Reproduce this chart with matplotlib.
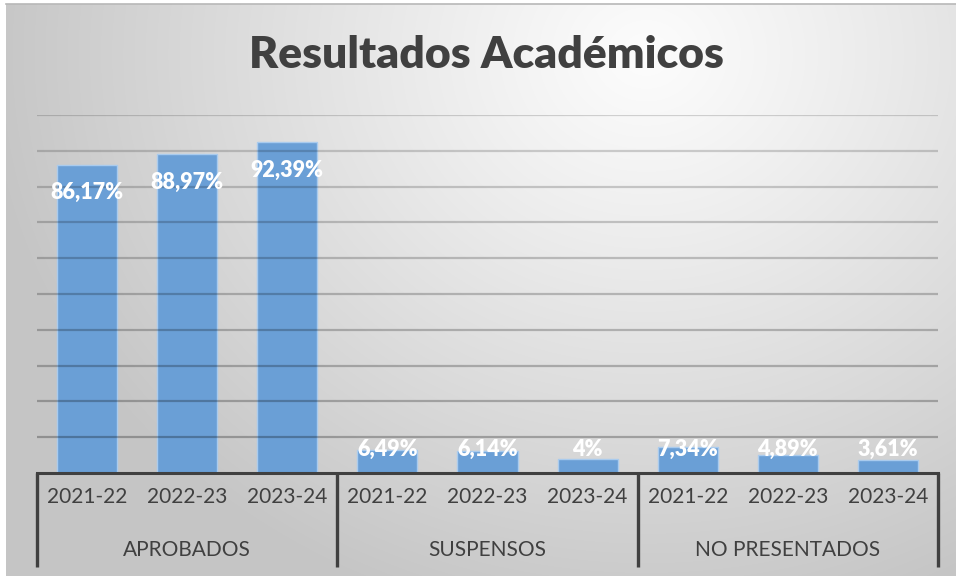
import numpy as np
import matplotlib
matplotlib.use("Agg")
import matplotlib.pyplot as plt
from matplotlib.transforms import blended_transform_factory

# ---- data ----
groups = ["APROBADOS", "SUSPENSOS", "NO PRESENTADOS"]
years = ["2021-22", "2022-23", "2023-24"]
aprobados = [86.17, 88.97, 92.39]
suspensos = [6.49, 6.14, 4.00]
no_presentados = [7.34, 4.89, 3.61]
title = "Resultados Académicos"

values = aprobados + suspensos + no_presentados
cat_labels = years * len(groups)

W, H = 956, 576
DPI = 100
fig = plt.figure(figsize=(W / DPI, H / DPI), dpi=DPI, facecolor="white")

# background gradient
bg = fig.add_axes([6 / W, 0, 1 - 6 / W, 1 - 4 / H], zorder=-10)
yy, xx = np.mgrid[0:572, 0:950]
cx, cy = 640, 50
r = np.sqrt(((xx - cx) / 660.0) ** 2 + ((yy - cy) / 580.0) ** 2)
r = np.clip(r, 0, 1)
val = 0.99 - (0.99 - 0.775) * r ** 1.1
img = np.dstack([val, val, val])
bg.imshow(img, aspect="auto", extent=[0, 1, 0, 1], origin="upper")
bg.plot([0, 1], [1, 1], color="#b8b8b8", lw=1.2, transform=bg.transAxes, clip_on=False)
bg.set_axis_off()

font = "Lato"
L, R, B, T = 37, 938, 473, 115
ax = fig.add_axes([L / W, 1 - B / H, (R - L) / W, (B - T) / H])
ax.patch.set_alpha(0)
x = np.arange(len(values))
ax.set_xlim(-0.5, len(values) - 0.5)
ax.set_ylim(0, 100)

for g in range(10, 101, 10):
    ax.axhline(g, color="#000000", alpha=0.16 + 0.12 * (1 - g / 100), lw=1.6, zorder=3)

ax.bar(x, values, width=0.6, color="#6a9fd6", edgecolor="#a9cbee", linewidth=1.0, zorder=2)

for xi, v in zip(x, values):
    s = f"{v:.2f}".rstrip("0").rstrip(".").replace(".", ",") + "%"
    yc = max(v - 7.8, 6.7)
    ax.text(xi, yc, s, ha="center", va="center", color="white", fontsize=15.5,
            fontweight="heavy", family=font, zorder=5)

for s in ax.spines.values():
    s.set_visible(False)
ax.set_xticks([])
ax.set_yticks([])
ax.axhline(0, color="#404040", lw=2.2, zorder=6, clip_on=False)

trans = blended_transform_factory(ax.transData, ax.transAxes)
ph = B - T
for xi, lab in zip(x, cat_labels):
    ax.text(xi, -(497 - B) / ph, lab, transform=trans, ha="center", va="center",
            fontsize=15, color="#404040", family=font)
for gi, g in enumerate(groups):
    ax.text(gi * 3 + 1, -(550 - B) / ph, g, transform=trans, ha="center", va="center",
            fontsize=15, color="#404040", family=font)
for sx in [-0.5, 2.5, 5.5, 8.5]:
    ax.plot([sx, sx], [0, -(567 - B) / ph], transform=trans, color="#404040", lw=2.4,
            clip_on=False, zorder=6, solid_capstyle="butt")

fig.text(486 / W, 1 - 55 / H, title, ha="center", va="center", fontsize=32,
         fontweight="heavy", color="#404040", family=font)

fig.savefig("out.png", dpi=DPI, facecolor="white")
